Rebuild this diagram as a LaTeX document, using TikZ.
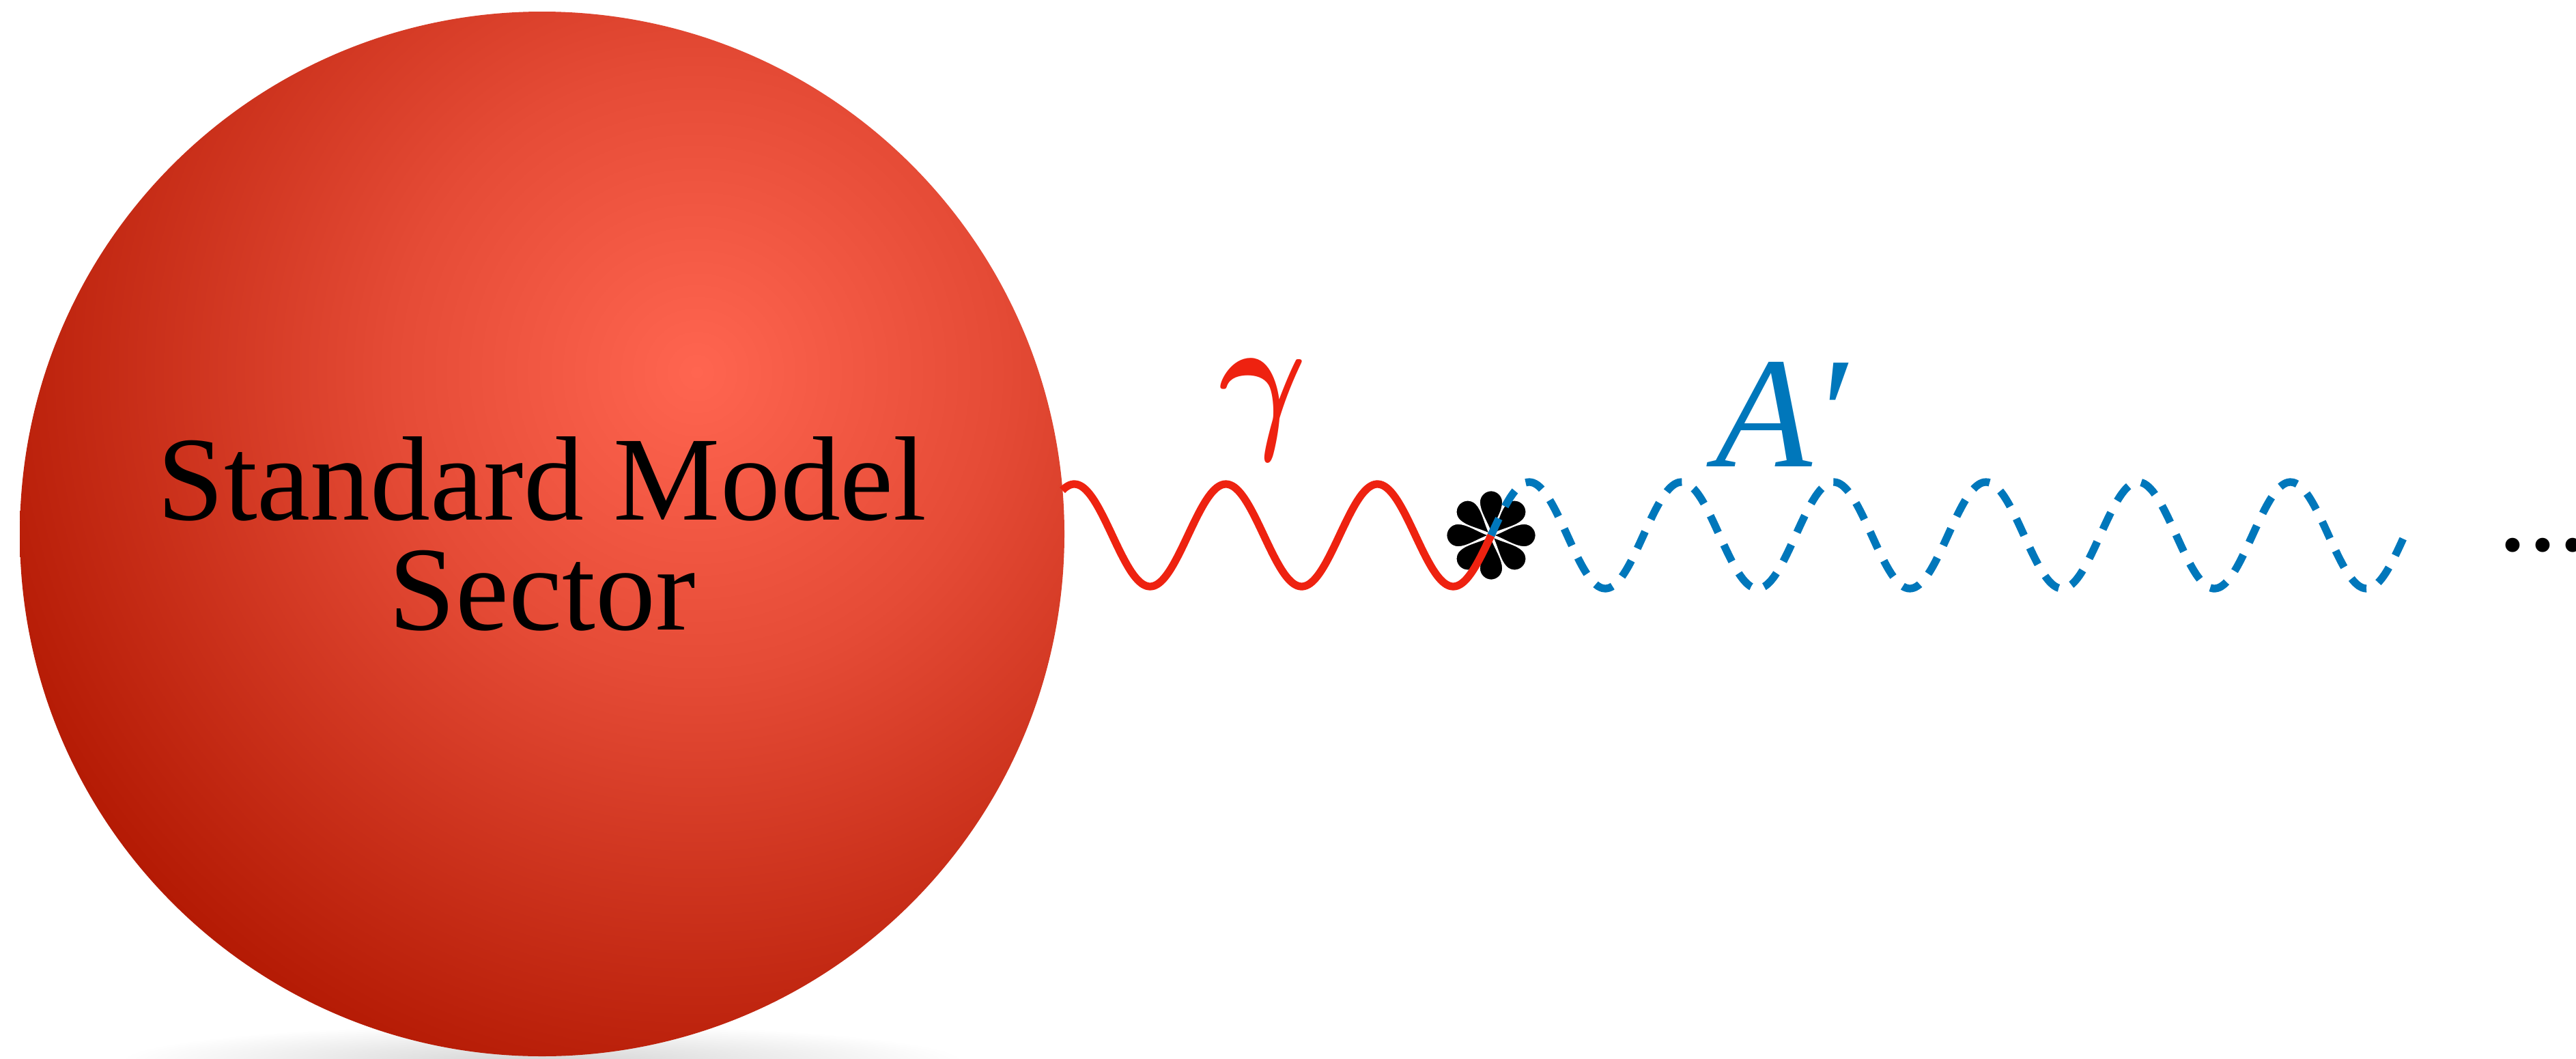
\RequirePackage{fix-cm}
\documentclass[tikz,border=0pt]{standalone}
\usepackage{fontspec}
\setmainfont{Liberation Serif}
\usepackage{graphicx}
\usetikzlibrary{positioning}
\definecolor{smhi}{RGB}{255,101,80}
\definecolor{smmid}{RGB}{229,75,54}
\definecolor{smlo}{RGB}{180,26,4}
\definecolor{gamred}{RGB}{238,34,16}
\definecolor{apblue}{RGB}{0,119,187}
\pgfdeclareradialshading{smglow}{\pgfpoint{0bp}{0bp}}{color(0bp)=(smhi); color(7.9bp)=(smmid); color(19.5bp)=(smlo); color(50bp)=(smlo)}

\begin{document}
\begin{tikzpicture}[
    wave/.style={line width=3.2pt, smooth, samples=240},
    petal/.style={fill=black, draw=white, line width=0.5pt},
    fieldlabel/.style={font=\fontsize{66}{66}\selectfont\itshape, inner sep=0pt, anchor=base}
  ]
  \useasboundingbox (0,0) rectangle (37.73,-15.5);
  \clip (0,0) rectangle (37.73,-15.5);
  % soft shadow under the ball
  \shade[inner color=black!17, outer color=white] (7.94,-15.55) ellipse (6.2cm and 0.55cm);
  \node[circle, minimum size=15.3cm, inner sep=0pt, align=center,
        font=\fontsize{50}{46}\selectfont,
        path picture={\shade[shading=smglow] ([shift={(2.26,2.37)}]path picture bounding box.center) circle (14cm);}]
    (sm) at (7.94,-7.82) {Standard Model\\Sector};
  % mixing vertex
  \coordinate (vtx) at (21.84,-7.84);
  \begin{scope}[shift={(vtx)}]
    \foreach \ang in {0,45,...,315}
      \filldraw[petal, rotate=\ang] (0,0.03) .. controls (-0.06,0.2) and (-0.17,0.35) .. (-0.17,0.485)
        arc (180:0:0.17) .. controls (0.17,0.35) and (0.06,0.2) .. (0,0.03) -- cycle;
  \end{scope}
  \draw[wave, gamred, shift={(vtx)}] plot[domain=-6.28:0] (\x,{0.75*sin(360*\x/2.22)});
  \draw[wave, apblue, dash pattern=on 0.27cm off 0.2cm, shift={(vtx)}]
    plot[domain=0:13.38] (\x,{0.78*sin(360*\x/2.23)});
  \node[fieldlabel, text=gamred] (gam) at (18.5,-6.29) {\scalebox{0.85}[1]{\boldmath$\gamma$}};
  \node[fieldlabel, text=apblue, anchor=base west] (ap) at (25.12,-6.83) {A′};
  \node[font=\fontsize{50}{50}\selectfont, inner sep=0pt, anchor=base west] (more) at (36.58,-8.06) {...};
\end{tikzpicture}
\end{document}
